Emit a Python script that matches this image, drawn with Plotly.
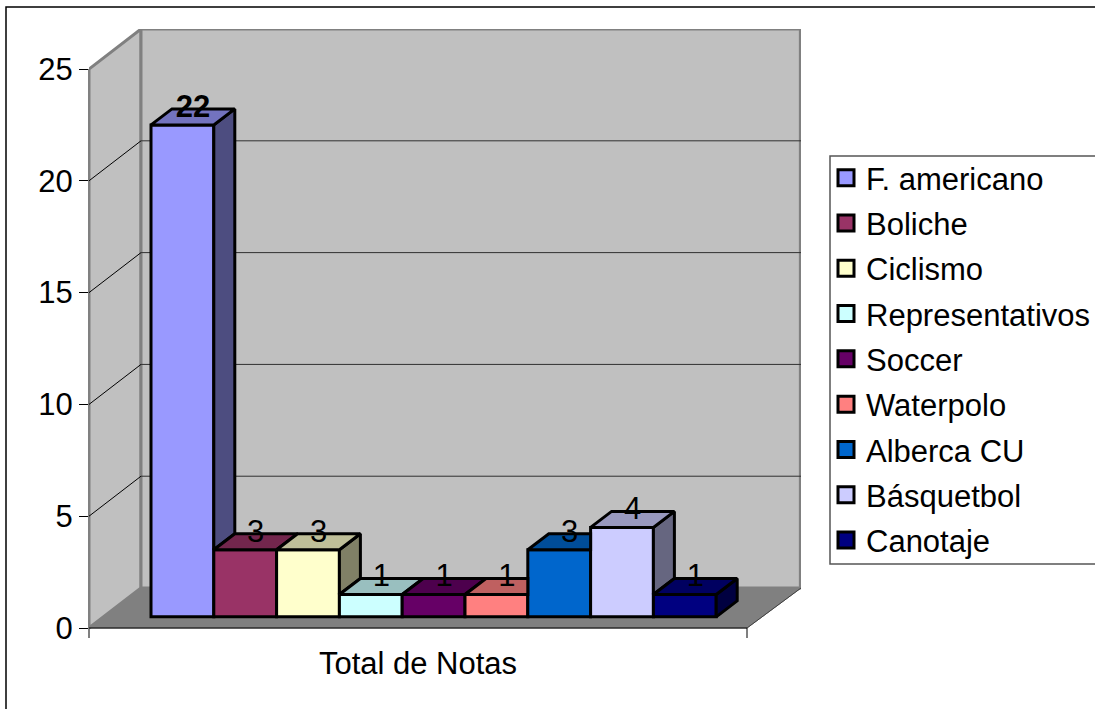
import plotly.graph_objects as go

categories = ["F. americano", "Boliche", "Ciclismo", "Representativos", "Soccer",
              "Waterpolo", "Alberca CU", "Básquetbol", "Canotaje"]
values = [22, 3, 3, 1, 1, 1, 3, 4, 1]
front_colors = ["#9999FF", "#993366", "#FFFFCC", "#CCFFFF", "#660066",
                "#FF8080", "#0066CC", "#CCCCFF", "#000080"]
top_colors = ["#7373BF", "#73264D", "#BFBF99", "#99BFBF", "#4D004D",
              "#BF6060", "#004D99", "#9999BF", "#000060"]
side_colors = ["#4D4D80", "#4D1A33", "#808066", "#668080", "#330033",
               "#804040", "#003366", "#666680", "#000040"]
label_weights = [700, 400, 400, 400, 400, 400, 400, 400, 400]
y_ticks = [0, 5, 10, 15, 20, 25]
x_title = "Total de Notas"

# page geometry
W, H = 1095, 709
L, R, T, B = 89, 801, 29, 638
FONT = dict(family="Liberation Sans, Arial, sans-serif", size=31, color="black")

# scales: one x unit = one bar width, y unit = one value unit
BAR_PX = 62.8
Y_MIN, Y_MAX = -0.447, 26.79
px_y = (B - T) / (Y_MAX - Y_MIN)
x_of = lambda px: (px - 151) / BAR_PX
X_MIN, X_MAX = x_of(L), x_of(R)
X_END = x_of(747)
WALL_DX, WALL_DY = x_of(141) - X_MIN, 40 / px_y
BASE = 0.5
DX, DY = 21 / BAR_PX, 16 / px_y
px_x = lambda px: (px - L) / (R - L)
px_yp = lambda py: (B - py) / (B - T)


def poly(pts):
    return "M" + " L".join(f"{x:.4f},{y:.4f}" for x, y in pts) + " Z"


GRAY = "#808080"
WALL = "#C0C0C0"
shapes = []
# frame (top and left edges only are inside the page)
shapes.append(dict(type="rect", xref="paper", yref="paper",
                   x0=px_x(6), x1=px_x(W + 20), y0=px_yp(H + 20), y1=px_yp(7),
                   line=dict(color="black", width=1.5), fillcolor="white", layer="below"))
# legend box
shapes.append(dict(type="rect", xref="paper", yref="paper",
                   x0=px_x(830), x1=px_x(W + 20), y0=px_yp(564), y1=px_yp(156),
                   line=dict(color="#555555", width=1.5), fillcolor="white", layer="below"))
bx = X_MIN + WALL_DX
# side wall, back wall, floor
shapes.append(dict(type="path", layer="below", fillcolor=WALL, line=dict(color=GRAY, width=3),
                   path=poly([(X_MIN, 25), (bx, 25 + WALL_DY), (bx, WALL_DY), (X_MIN, 0)])))
shapes.append(dict(type="path", layer="below", fillcolor=WALL, line=dict(color=GRAY, width=3),
                   path=poly([(bx, 25 + WALL_DY), (X_MAX - 0.01, 25 + WALL_DY), (X_MAX - 0.01, WALL_DY), (bx, WALL_DY)])))
shapes.append(dict(type="path", layer="below", fillcolor=GRAY, line=dict(color=GRAY, width=1),
                   path=poly([(X_MIN, 0), (X_END, 0), (X_MAX, WALL_DY), (bx, WALL_DY)])))
# grid on walls
for v in y_ticks[1:-1]:
    shapes.append(dict(type="line", layer="below", x0=X_MIN, y0=v, x1=bx, y1=v + WALL_DY,
                       line=dict(color="black", width=1)))
    shapes.append(dict(type="line", layer="below", x0=bx, y0=v + WALL_DY, x1=X_MAX, y1=v + WALL_DY,
                       line=dict(color="#303030", width=1)))
# axis lines and the two long ticks
shapes.append(dict(type="line", layer="below", xref="paper", x0=0, x1=0, y0=Y_MIN, y1=25,
                   line=dict(color="black", width=1)))
shapes.append(dict(type="line", layer="below", x0=X_MIN, x1=X_END, y0=0, y1=0,
                   line=dict(color="black", width=1)))
shapes.append(dict(type="line", layer="below", x0=X_END, x1=X_END, y0=Y_MIN, y1=0,
                   line=dict(color="black", width=1)))
shapes.append(dict(type="line", layer="below", x0=X_END, x1=X_MAX, y0=0, y1=WALL_DY,
                   line=dict(color="#404040", width=1)))

fig = go.Figure()
# front faces
for i, (c, v) in enumerate(zip(categories, values)):
    fig.add_trace(go.Bar(x=[i + 0.5], y=[v], base=[BASE], width=[1], name=c, showlegend=False,
                         marker=dict(color=front_colors[i], line=dict(color="black", width=3))))
# side and top faces, painted left to right, trimmed where the next bar hides them
for i, v in enumerate(values):
    xl, xr = i, i + 1
    top = v + BASE
    nxt = values[i + 1] + BASE if i + 1 < len(values) else BASE
    if nxt < top or i + 1 == len(values):
        low = max(nxt, BASE)
        side = [(xr, top), (xr + DX, top + DY), (xr + DX, low + DY), (xr, low)]
        fig.add_trace(go.Scatter(x=[p[0] for p in side] + [side[0][0]], y=[p[1] for p in side] + [side[0][1]],
                                 mode="lines", fill="toself", fillcolor=side_colors[i],
                                 line=dict(color="black", width=3), showlegend=False, hoverinfo="skip"))
    if nxt > top:
        face = [(xl, top), (xr, top), (xr, top + DY), (xl + DX, top + DY)]
    else:
        face = [(xl, top), (xr, top), (xr + DX, top + DY), (xl + DX, top + DY)]
    fig.add_trace(go.Scatter(x=[p[0] for p in face] + [face[0][0]], y=[p[1] for p in face] + [face[0][1]],
                             mode="lines", fill="toself", fillcolor=top_colors[i],
                             line=dict(color="black", width=3), showlegend=False, hoverinfo="skip"))
# data labels
fig.add_trace(go.Scatter(x=[i + 0.5 + DX / 2 for i in range(len(values))],
                         y=[v + BASE + DY for v in values],
                         text=[str(v) for v in values], mode="text", textposition="middle center",
                         textfont=dict(**FONT, weight=label_weights),
                         showlegend=False, hoverinfo="skip", cliponaxis=False))
# legend entries
for i, c in enumerate(categories):
    fig.add_trace(go.Scatter(x=[None], y=[None], mode="markers", name=c, legendgroup=c,
                             marker=dict(symbol="square", size=16, color=front_colors[i],
                                         line=dict(color="black", width=3))))

fig.update_layout(
    width=W, height=H, autosize=False,
    margin=dict(l=L, r=W - R, t=T, b=H - B, pad=0, autoexpand=False),
    paper_bgcolor="white", plot_bgcolor="rgba(0,0,0,0)",
    font=FONT, shapes=shapes, barmode="overlay",
    xaxis=dict(range=[X_MIN, X_MAX], tickmode="array", tickvals=[(X_MIN + X_END) / 2], ticktext=[x_title],
               ticks="", showgrid=False, zeroline=False, showline=False, ticklabelstandoff=4,
               tickfont=FONT),
    yaxis=dict(range=[Y_MIN, Y_MAX], tickmode="array", tickvals=y_ticks, ticks="outside", ticklen=9,
               tickwidth=1, tickcolor="black", showgrid=False, zeroline=False, showline=False,
               tickfont=FONT),
    legend=dict(x=px_x(826), y=px_yp(151), xanchor="left", yanchor="top",
                bgcolor="rgba(0,0,0,0)", borderwidth=0, font=FONT,
                tracegroupgap=2, itemclick=False, itemdoubleclick=False),
)

fig.write_html("out.html", post_script='document.body.style.margin="0";document.body.style.overflow="hidden";',
               config=dict(displayModeBar=False))
